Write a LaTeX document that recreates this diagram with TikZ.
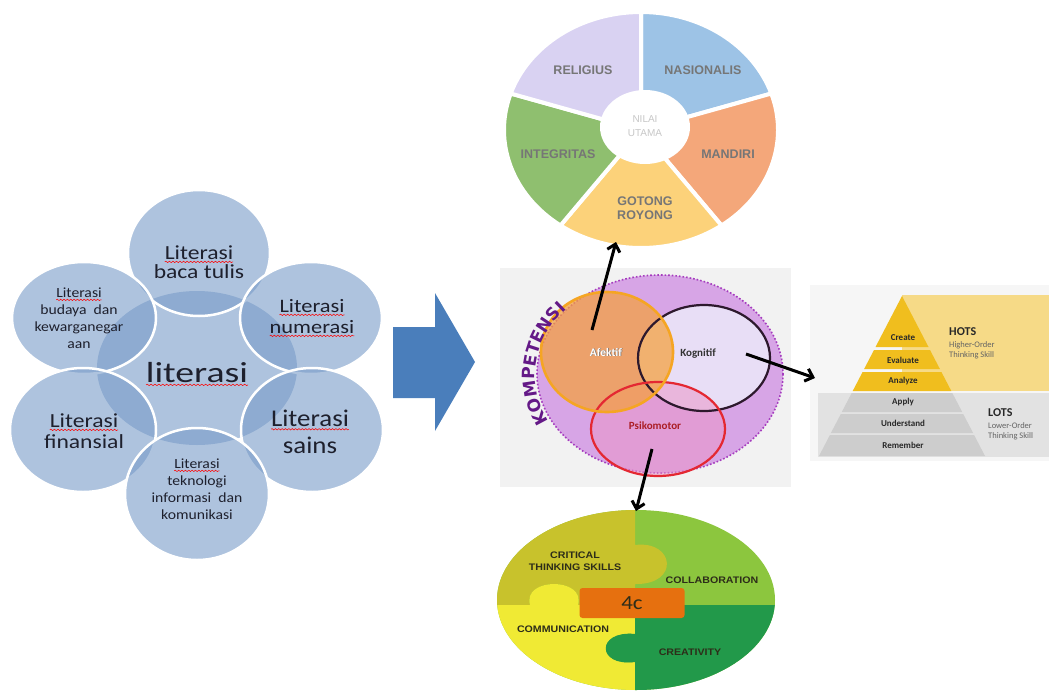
\documentclass[tikz,border=0pt]{standalone}
\usepackage{fontspec}
\setmainfont{Carlito}
\newfontfamily\arialf{Liberation Sans}
\newfontfamily\heavyf{DejaVu Sans}
\usepackage{graphicx}
\usetikzlibrary{arrows.meta,decorations.pathmorphing,decorations.text}
\newcommand\ruw[1]{\tikz[baseline=(wvx.base)]{\node[inner sep=0pt, outer sep=0pt] (wvx) {#1}; \draw[red, line width=0.5pt, decorate, decoration={snake, amplitude=0.7pt, segment length=3pt}] ([yshift=-2.6pt]wvx.base west) -- ([yshift=-2.6pt]wvx.base east);}}
\newcommand\ws[1]{\scalebox{1.18}[1]{#1}}
\newcommand\wt[1]{\scalebox{1.12}[1]{#1}}
\newcommand\kompfont{\heavyf\bfseries\fontsize{17}{19}\selectfont}
\definecolor{cb}{RGB}{120,155,200}
\definecolor{ctxt}{RGB}{30,32,45}
\definecolor{arrowblue}{RGB}{74,126,187}
\definecolor{prel}{RGB}{217,210,242}
\definecolor{pnas}{RGB}{157,195,230}
\definecolor{pman}{RGB}{244,167,122}
\definecolor{pgot}{RGB}{252,210,122}
\definecolor{pint}{RGB}{143,191,111}
\definecolor{plab}{RGB}{118,118,118}
\definecolor{vbg}{RGB}{242,242,242}
\definecolor{vpur}{RGB}{215,165,230}
\definecolor{vpurd}{RGB}{165,60,190}
\definecolor{vor}{RGB}{245,160,60}
\definecolor{vord}{RGB}{245,165,35}
\definecolor{vkog}{RGB}{232,222,246}
\definecolor{vkogd}{RGB}{45,25,45}
\definecolor{vpsi}{RGB}{235,150,200}
\definecolor{vpsid}{RGB}{228,40,50}
\definecolor{komp}{RGB}{100,25,135}
\definecolor{pybg}{RGB}{246,246,246}
\definecolor{pypale}{RGB}{246,218,135}
\definecolor{pygold}{RGB}{240,190,30}
\definecolor{pyband}{RGB}{226,226,226}
\definecolor{pygray}{RGB}{205,205,205}
\definecolor{pytxt}{RGB}{40,40,40}
\definecolor{pysub}{RGB}{100,100,100}
\definecolor{cgreen}{RGB}{140,198,62}
\definecolor{colive}{RGB}{200,194,44}
\definecolor{cyellow}{RGB}{240,234,52}
\definecolor{cdark}{RGB}{34,153,74}
\definecolor{corange}{RGB}{230,112,15}
\definecolor{ctx4}{RGB}{45,45,25}
\begin{document}
\begin{tikzpicture}[x=1pt,y=-1pt,
  lt/.style={text=ctxt, align=center, inner sep=0pt},
  blob/.style={fill=cb, fill opacity=0.6, draw=white, line width=2.5pt},
  slice/.style={draw=white, line width=4pt, line join=round},
  plbl/.style={text=plab, font=\arialf\bfseries\fontsize{12.5}{14}\selectfont, align=center, inner sep=0pt},
  conn/.style={line width=3pt, black, -{Straight Barb[length=7pt,width=13pt,line width=3pt]}},
  pyt/.style={text=pytxt, font=\bfseries\fontsize{9}{10}\selectfont, inner sep=0pt},
  pys/.style={text=pysub, font=\fontsize{8.5}{9.5}\selectfont, inner sep=0pt, anchor=west},
  c4l/.style={text=ctx4, font=\arialf\bfseries\fontsize{9.5}{12}\selectfont, align=center, inner sep=0pt},
  komptext/.style={font=\kompfont, decorate, decoration={text along path, text align=center, text color=komp, text={|\kompfont|KOMPETENSI}}}
]
\useasboundingbox (0,0) rectangle (1049,693);

% ---------------- left cluster
\fill[cb, fill opacity=0.6] (197,368) ellipse [x radius=100, y radius=77];
\filldraw[blob] (199,253) ellipse [x radius=71, y radius=63];
\filldraw[blob] (84,318) ellipse [x radius=72, y radius=56];
\filldraw[blob] (311,318) ellipse [x radius=71, y radius=56];
\filldraw[blob] (83,430) ellipse [x radius=73, y radius=62];
\filldraw[blob] (312,430) ellipse [x radius=71, y radius=62];
\filldraw[blob] (197,494) ellipse [x radius=72, y radius=66];

\node[lt, font=\fontsize{20}{19}\selectfont] (tbaca) at (199,262) {\ws{\ruw{Literasi}}\\\ws{baca tulis}};
\node[lt, font=\fontsize{14}{17}\selectfont] (tbud) at (79,318) {\wt{\ruw{Literasi}}\\\wt{budaya\ \ dan}\\\wt{kewarganegar}\\\wt{aan}};
\node[lt, font=\fontsize{19}{21}\selectfont] (tnum) at (312,318) {\ws{\ruw{Literasi}}\\\ws{\ruw{numerasi}}};
\node[lt, font=\fontsize{29}{30}\selectfont] (tlit) at (197,374) {\scalebox{1.3}[1]{\ruw{literasi}}};
\node[lt, font=\fontsize{20}{21}\selectfont] (tfin) at (84,431) {\ws{\ruw{Literasi}}\\\ws{finansial}};
\node[lt, font=\fontsize{24}{27}\selectfont] (tsai) at (310,432) {\wt{\ruw{Literasi}}\\\wt{sains}};
\node[lt, font=\fontsize{14}{17}\selectfont] (ttek) at (197,489) {\wt{\ruw{Literasi}}\\\wt{teknologi}\\\wt{informasi\ \ dan}\\\wt{komunikasi}};

% ---------------- block arrow
\fill[arrowblue] (393,327) -- (435,327) -- (435,293) -- (475,362) -- (435,431) -- (435,398) -- (393,398) -- cycle;

% ---------------- pie (nilai utama)
\filldraw[slice, fill=pnas] (641,130) -- ++(-90:137 and 118) arc[start angle=-90, end angle=-18, x radius=137, y radius=118] -- cycle;
\filldraw[slice, fill=pman] (641,130) -- ++(-18:137 and 118) arc[start angle=-18, end angle=54, x radius=137, y radius=118] -- cycle;
\filldraw[slice, fill=pgot] (641,130) -- ++(54:137 and 118) arc[start angle=54, end angle=126, x radius=137, y radius=118] -- cycle;
\filldraw[slice, fill=pint] (641,130) -- ++(126:137 and 118) arc[start angle=126, end angle=198, x radius=137, y radius=118] -- cycle;
\filldraw[slice, fill=prel] (641,130) -- ++(198:137 and 118) arc[start angle=198, end angle=270, x radius=137, y radius=118] -- cycle;
\fill[white] (645,127) ellipse [x radius=45, y radius=37];
\node[plbl] (nrel) at (583,70) {RELIGIUS};
\node[plbl] (nnas) at (703,70) {NASIONALIS};
\node[plbl] (nman) at (728,154) {MANDIRI};
\node[plbl] (nint) at (558,154) {INTEGRITAS};
\node[plbl] (ngot) at (645,208) {GOTONG\\ROYONG};
\node[plbl, text=black!22, font=\arialf\fontsize{10}{14}\selectfont] (nnil) at (645,126) {NILAI\\UTAMA};

% ---------------- Venn (kompetensi)
\fill[vbg] (500,268) rectangle (791,487);
\filldraw[fill=vpur, draw=vpurd, line width=1.6pt, dotted] (660,374) ellipse [x radius=123, y radius=99];
\fill[vkog] (704,358) ellipse [x radius=66, y radius=53];
\fill[vpsi, fill opacity=0.55] (658,429) ellipse [x radius=67, y radius=47];
\fill[vor, fill opacity=0.72] (607,352) ellipse [x radius=66, y radius=60];
\draw[vkogd, line width=2.2pt] (704,358) ellipse [x radius=66, y radius=53];
\draw[vpsid, line width=2.2pt] (658,429) ellipse [x radius=67, y radius=47];
\draw[vord, line width=2.6pt] (607,352) ellipse [x radius=66, y radius=60];
\node[text=black!55, font=\bfseries\fontsize{11.5}{12}\selectfont] at (606.7,352.7) {Afektif};
\node[text=white, font=\bfseries\fontsize{11.5}{12}\selectfont] (naf) at (606,352) {Afektif};
\node[text=black!80, font=\bfseries\fontsize{11}{12}\selectfont] (nkog) at (698,354) {Kognitif};
\node[text=vpsid!75!black, font=\bfseries\fontsize{11}{12}\selectfont] (npsi) at (655,426) {Psikomotor};
\path[komptext] ([shift={(660,376)}]-222:125 and 101) arc[start angle=-222, end angle=-124, x radius=125, y radius=101];

% ---------------- pyramid
\fill[pybg] (810,285) rectangle (1049,461);
\fill[pypale] (902,295) rectangle (1049,391);
\fill[pyband] (818,393) rectangle (1049,457);
\fill[pygold] (902,296) -- (928.5,347) -- (875.5,347) -- cycle;
\fill[pygold] (874,350) -- (930,350) -- (939.9,369) -- (864.1,369) -- cycle;
\fill[pygold] (862.6,372) -- (941.4,372) -- (951.3,391) -- (852.7,391) -- cycle;
\fill[pygray] (851.7,393) -- (952.3,393) -- (962.2,412) -- (841.8,412) -- cycle;
\fill[pygray] (840.8,414) -- (963.2,414) -- (973.1,433) -- (830.9,433) -- cycle;
\fill[pygray] (829.9,435) -- (974.1,435) -- (985,456) -- (819,456) -- cycle;
\node[pyt] (pcre) at (903,338) {Create};
\node[pyt] (peva) at (903,360) {Evaluate};
\node[pyt] (pana) at (903,381) {Analyze};
\node[pyt] (papp) at (903,402) {Apply};
\node[pyt] (pund) at (903,423) {Understand};
\node[pyt] (prem) at (903,445) {Remember};
\node[pyt, anchor=west, font=\bfseries\fontsize{12}{13}\selectfont] (phots) at (949,332) {HOTS};
\node[pys] (phs1) at (949,345) {Higher-Order};
\node[pys] (phs2) at (949,355) {Thinking Skill};
\node[pyt, anchor=west, font=\bfseries\fontsize{12}{13}\selectfont] (plots) at (988,413) {LOTS};
\node[pys] (pls1) at (988,426) {Lower-Order};
\node[pys] (pls2) at (988,436) {Thinking Skill};

% ---------------- 4c puzzle
\begin{scope}
\clip (636,600) ellipse [x radius=139, y radius=90];
\fill[cgreen] (490,505) rectangle (780,700);
\fill[colive] (490,505) -- (635,505) -- (635,545) .. controls (675,540) and (680,585) .. (635,584) -- (635,605) -- (578,605) .. controls (586,577) and (522,577) .. (530,605) -- (490,605) -- cycle;
\fill[cyellow] (490,605) -- (530,605) .. controls (522,577) and (586,577) .. (578,605) -- (635,605) -- (635,634) .. controls (596,630) and (596,667) .. (635,662) -- (635,700) -- (490,700) -- cycle;
\fill[cdark] (635,605) -- (790,605) -- (790,700) -- (635,700) -- (635,662) .. controls (596,667) and (596,630) .. (635,634) -- cycle;
\end{scope}
\node[fill=corange, rounded corners=3pt, minimum width=105pt, minimum height=30pt, inner sep=0pt, text=ctx4, font=\fontsize{20}{22}\selectfont] (c4) at (632,603) {\scalebox{1.15}[1]{4c}};
\node[c4l] (lcrit) at (575,561) {\scalebox{1.12}[1]{CRITICAL}\\\scalebox{1.12}[1]{THINKING SKILLS}};
\node[c4l] (lcoll) at (712,580) {\scalebox{1.12}[1]{COLLABORATION}};
\node[c4l] (lcomm) at (563,629) {\scalebox{1.12}[1]{COMMUNICATION}};
\node[c4l] (lcrea) at (690,652) {\scalebox{1.12}[1]{CREATIVITY}};

% ---------------- connectors
\coordinate (afA) at (592,330);
\coordinate (pieB) at (616,242);
\coordinate (kgA) at (746,354);
\coordinate (pyrL) at (815,378);
\coordinate (psA) at (652,449);
\coordinate (c4T) at (636,511);
\draw[conn] (afA) -- (pieB);
\draw[conn] (kgA) -- (pyrL);
\draw[conn] (psA) -- (c4T);
\end{tikzpicture}
\end{document}
